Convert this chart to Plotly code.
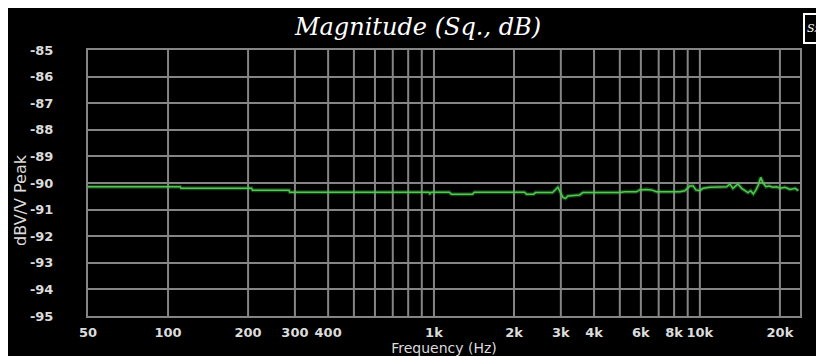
import math
import plotly.graph_objects as go

# ---- data ----
freq_hz = [50, 111, 112, 206, 208, 285, 287, 958, 965, 975, 986, 1142, 1163, 1395, 1419,
           2190, 2229, 2368, 2410, 2793, 2924, 2985, 3054, 3126, 3189, 3530, 3633, 4995,
           5218, 5774, 5941, 6299, 6577, 6868, 8406, 8781, 9170, 9434, 9658, 9998, 10263,
           10905, 12606, 12972, 13315, 13750, 13906, 14360, 14778, 15168, 15529, 15883,
           16257, 16586, 16934, 17320, 17731, 18245, 18793, 19454, 20020, 20907, 21837,
           22804, 23470]
mag_db = [-90.14, -90.14, -90.20, -90.20, -90.27, -90.27, -90.35, -90.35, -90.40, -90.35,
          -90.35, -90.35, -90.42, -90.42, -90.35, -90.35, -90.42, -90.42, -90.36, -90.36,
          -90.16, -90.33, -90.54, -90.58, -90.49, -90.45, -90.36, -90.36, -90.33, -90.33,
          -90.26, -90.24, -90.26, -90.33, -90.33, -90.29, -90.11, -90.11, -90.26, -90.29,
          -90.20, -90.16, -90.14, -90.04, -90.20, -90.08, -90.04, -90.20, -90.29, -90.36,
          -90.29, -90.41, -90.26, -90.08, -89.79, -90.01, -90.14, -90.11, -90.16, -90.14,
          -90.20, -90.16, -90.24, -90.20, -90.29]

x_tick_vals = [50, 100, 200, 300, 400, 1000, 2000, 3000, 4000, 6000, 8000, 10000, 20000]
x_tick_text = ["50", "100", "200", "300", "400", "1k", "2k", "3k", "4k", "6k", "8k", "10k", "20k"]
x_grid_vals = [100, 200, 300, 400, 500, 600, 700, 800, 900,
               1000, 2000, 3000, 4000, 5000, 6000, 7000, 8000, 9000, 10000, 20000]
y_tick_vals = [-85, -86, -87, -88, -89, -90, -91, -92, -93, -94, -95]
y_tick_text = [str(v) for v in y_tick_vals]
x_min, x_max = 50, 23800
y_min, y_max = -95, -85

GRID = "#858585"
LABEL = "#dcdcdc"

# plot area in figure pixels (page body margin shifts the figure by 8px)
L, R, T, B = 80, 792, 42, 308
PW, PH = R - L, B - T


def px(fx):
    return (fx - L) / PW


def py(fy):
    return (B - fy) / PH


fig = go.Figure()

# vertical grid lines
gx, gy = [], []
for f in x_grid_vals:
    gx += [f, f, None]
    gy += [y_min, y_max, None]
fig.add_trace(go.Scatter(x=gx, y=gy, mode="lines", line=dict(color=GRID, width=2),
                         hoverinfo="skip", showlegend=False))

# glow + line
fig.add_trace(go.Scatter(x=freq_hz, y=mag_db, mode="lines",
                         line=dict(color="rgba(60,190,60,0.35)", width=4),
                         hoverinfo="skip", showlegend=False))
fig.add_trace(go.Scatter(x=freq_hz, y=mag_db, mode="lines",
                         line=dict(color="#52c852", width=1.5), showlegend=False))

fig.update_layout(
    width=824, height=356,
    margin=dict(l=L, r=824 - R, t=T, b=356 - B, autoexpand=False),
    paper_bgcolor="black", plot_bgcolor="black",
    title=dict(text="<i>Magnitude (Sq., dB)</i>", x=410/824, xref="container",
               y=1-19/356, yref="container", xanchor="center", yanchor="middle",
               font=dict(family="DejaVu Serif", size=24, color="white")),
    font=dict(family="DejaVu Sans", color=LABEL),
    showlegend=False,
)
fig.update_xaxes(type="log", range=[math.log10(x_min), math.log10(x_max)],
                 automargin=False,
                 tickmode="array", tickvals=x_tick_vals, ticktext=x_tick_text,
                 showgrid=False, zeroline=False, ticks="",
                 showline=True, mirror=True, linecolor=GRID, linewidth=2,
                 tickfont=dict(family="DejaVu Sans", size=13, color=LABEL, weight="bold"),
                 ticklabelstandoff=3,
                 title=dict(text="Frequency (Hz)", standoff=0,
                            font=dict(family="DejaVu Sans", size=14, color=LABEL)))
fig.update_yaxes(range=[y_min, y_max], automargin=False,
                 tickmode="array", tickvals=y_tick_vals,
                 ticktext=y_tick_text, showgrid=True, gridcolor=GRID, gridwidth=2,
                 zeroline=False, ticks="",
                 showline=True, mirror=True, linecolor=GRID, linewidth=2,
                 tickfont=dict(family="DejaVu Sans", size=13, color=LABEL, weight="bold"),
                 ticklabelstandoff=30)

# y-axis title
fig.add_annotation(text="dBV/V Peak", xref="paper", yref="paper",
                   x=px(12), y=py(192), textangle=-90, showarrow=False,
                   font=dict(family="DejaVu Sans", size=16, color=LABEL),
                   xanchor="center", yanchor="middle")

# logo box (clipped by the window edge as in the reference)
fig.add_shape(type="rect", xref="paper", yref="paper", x0=px(796), x1=px(830),
              y0=py(35), y1=py(6), fillcolor="black",
              line=dict(color="white", width=2), layer="above")
fig.add_annotation(text="<i>Sz</i>", xref="paper", yref="paper",
                   x=px(806), y=py(20.5), showarrow=False,
                   font=dict(family="DejaVu Serif", size=11, color="white"),
                   xanchor="center", yanchor="middle")

fig.write_html("out.html")
